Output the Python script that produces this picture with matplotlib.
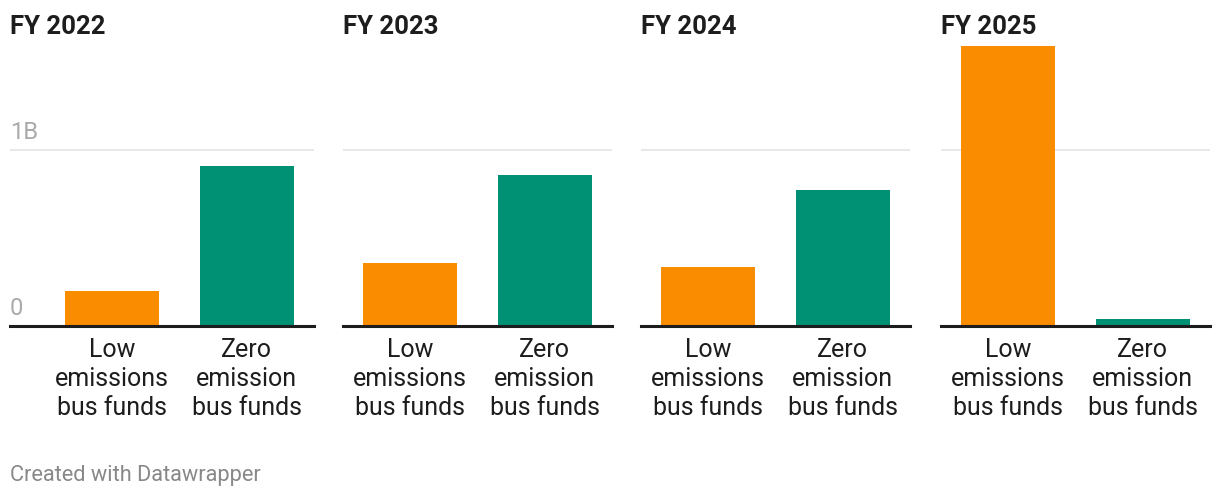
import matplotlib
matplotlib.use("Agg")
import matplotlib.pyplot as plt

plt.rcParams['font.family'] = ['Roboto', 'DejaVu Sans']

years = ["FY 2022", "FY 2023", "FY 2024", "FY 2025"]
categories = ["Low\nemissions\nbus funds", "Zero\nemission\nbus funds"]
low_emissions = [0.197, 0.357, 0.334, 1.592]   # billions
zero_emission = [0.909, 0.858, 0.772, 0.038]   # billions
colors = ["#fa8c00", "#009175"]

W, H = 1220, 498
fig = plt.figure(figsize=(W / 100, H / 100), dpi=100)

base_px = 325.7
px_per_unit = 175.7
ymax = 1.62
top_px = base_px - ymax * px_per_unit

panel_left = [45, 343, 641, 941]
panel_w = 269
spacing = panel_w / 2.0

for i, yr in enumerate(years):
    left = panel_left[i]
    extra = 35 if i == 0 else 0
    ax_left = left - extra
    ax_w = panel_w + extra
    ax = fig.add_axes([ax_left / W, (H - base_px) / H, ax_w / W, (base_px - top_px) / H])
    xl = -0.5 - extra / spacing
    ax.set_xlim(xl, 1.5)
    ax.set_ylim(0, ymax)
    vals = [low_emissions[i], zero_emission[i]]
    ax.bar([0, 1], vals, width=0.7, color=colors, zorder=2)
    ax.axhline(1.0, color="#e6e6e6", lw=1.3, zorder=1)
    for s in ["top", "right", "left"]:
        ax.spines[s].set_visible(False)
    ax.spines["bottom"].set_color("#1d1d1d")
    ax.spines["bottom"].set_linewidth(2.2)
    ax.spines["bottom"].set_zorder(3)
    ax.set_yticks([])
    ax.set_xticks([0, 1])
    ax.set_xticklabels(categories, fontsize=18, color="#1d1d1d", linespacing=1.27)
    ax.tick_params(axis="x", length=0, pad=9)
    ax.patch.set_visible(False)
    if i == 0:
        ax.annotate("1B", xy=(xl, 1.0), xytext=(0, 8), textcoords="offset points",
                    va="baseline", ha="left", fontsize=17, color="#aaaaaa")
        ax.annotate("0", xy=(xl, 0.0), xytext=(0, 8), textcoords="offset points",
                    va="baseline", ha="left", fontsize=17, color="#aaaaaa")
    fig.text((ax_left) / W, (H - 34) / H, yr, fontsize=18.5, fontweight="bold",
             color="#1d1d1d", va="baseline", ha="left")

fig.text(10 / W, (H - 481) / H, "Created with Datawrapper", fontsize=15.7,
         color="#888888", va="baseline", ha="left")

fig.savefig("out.png", dpi=100, facecolor="white")
